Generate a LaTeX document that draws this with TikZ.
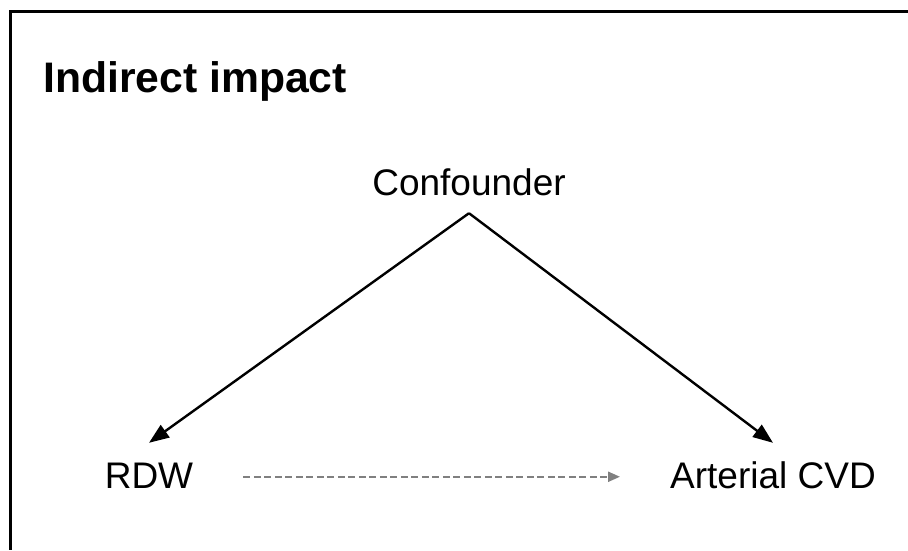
\documentclass[tikz,border=0pt]{standalone}
\usepackage{fontspec}
\setmainfont{Liberation Sans}
\usetikzlibrary{arrows.meta}
\begin{document}
\begin{tikzpicture}[x=1pt,y=-1pt,
  lbl/.style={anchor=base,font=\fontsize{37}{44}\selectfont,text height=26.5pt,text depth=0pt,inner xsep=50pt},
  solidarrow/.style={line width=2.4pt,-{Triangle[length=20pt,width=15pt]}},
  dasharrow/.style={line width=2.2pt,draw={rgb,255:red,128;green,128;blue,128},dash pattern=on 7pt off 3.5pt,-{Triangle[length=12pt,width=10pt]}}]
\useasboundingbox (0,0) rectangle (908,550);
\draw[line width=3pt] (908,11.5) -- (10.5,11.5) -- (10.5,550);
\node[anchor=base west,inner sep=0pt,font=\bfseries\fontsize{42.7}{50}\selectfont] (title) at (43,92) {Indirect impact};
\node[lbl,inner ysep=18pt] (conf) at (469,195) {Confounder};
\node[lbl,inner ysep=18.5pt] (rdw) at (149,488) {RDW};
\node[lbl,inner ysep=18.5pt] (cvd) at (773,488) {Arterial CVD};
\draw[solidarrow] (conf.south) -- (rdw.north);
\draw[solidarrow] (conf.south) -- (cvd.north);
\draw[dasharrow] ([yshift=-2pt]rdw.east) -- ([yshift=-2pt]cvd.west);
\end{tikzpicture}
\end{document}
